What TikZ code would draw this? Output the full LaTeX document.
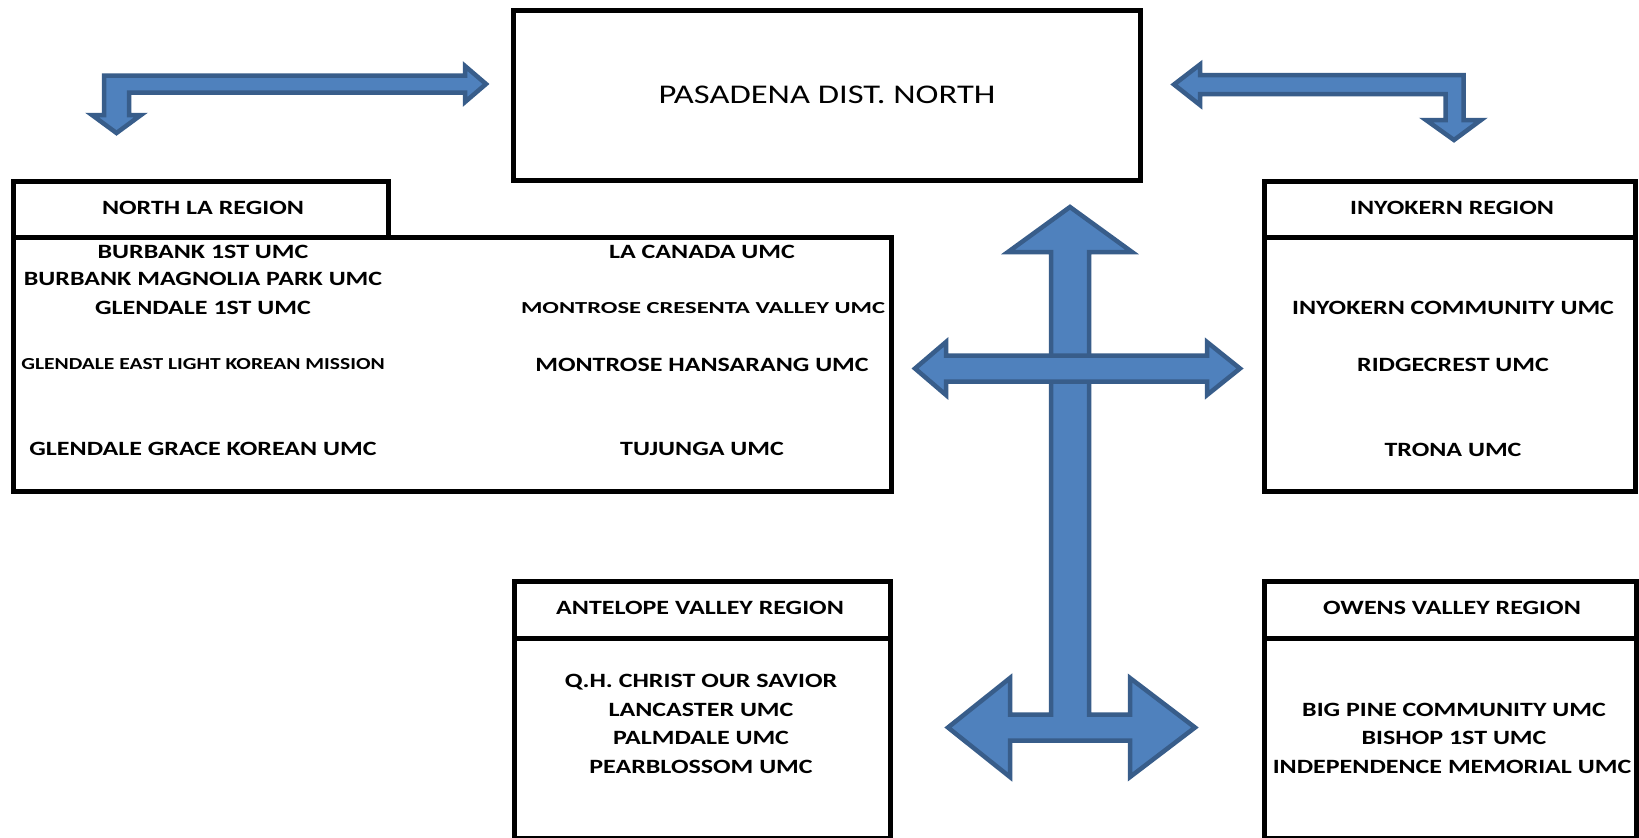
\documentclass[tikz,border=0pt]{standalone}
\usepackage{fontspec}
\setmainfont{Carlito}
\usepackage{graphicx}
\definecolor{arrowfill}{HTML}{4F81BD}
\definecolor{arrowline}{HTML}{385D8A}
\newcommand{\wx}[1]{\scalebox{1.28}[1]{#1}}
\begin{document}
\begin{tikzpicture}[x=1pt,y=-1pt,
  boxline/.style={draw=black,line width=5pt},
  arrowshape/.style={fill=arrowfill,draw=arrowline,line width=4.5pt,line join=miter},
  item/.style={font=\bfseries\fontsize{20.3}{24}\selectfont,inner sep=0pt},
  smallitem/.style={font=\bfseries\fontsize{16.8}{20}\selectfont,inner sep=0pt},
  titletext/.style={font=\fontsize{27}{32}\selectfont,inner sep=0pt}]
\useasboundingbox (0,0) rectangle (1639,838);
\fill[white] (0,0) rectangle (1639,838);

% boxes
\draw[boxline] (513,10) rectangle (1140,180);
\draw[boxline] (13,181) rectangle (388.5,237);
\draw[boxline] (13,237) rectangle (891,491);
\draw[boxline] (1264.5,181) rectangle (1635.5,237);
\draw[boxline] (1264.5,237) rectangle (1635.5,491);
\draw[boxline] (514,581) rectangle (890,638);
\draw[boxline] (514,638) rectangle (890,838);
\draw[boxline] (1264.5,581) rectangle (1636,638);
\draw[boxline] (1264.5,638) rectangle (1636,838);

% bent arrows
\draw[arrowshape] (116.5,133) -- (92,115) -- (104,115) -- (104,75.5) -- (465,75.5) -- (465,66)
  -- (486,84) -- (465,102) -- (465,92.5) -- (129,92.5) -- (129,115) -- (141,115) -- cycle;
\draw[arrowshape] (1174,84.5) -- (1200,64.5) -- (1200,75) -- (1463.5,75) -- (1463.5,120)
  -- (1481,120) -- (1454,140) -- (1426,120) -- (1445.5,120) -- (1445.5,94) -- (1200,94)
  -- (1200,105) -- cycle;

% cross arrow (left-right-up)
\draw[arrowshape] (1070,207) -- (1132,252) -- (1089,252) -- (1089,714.5) -- (1130,714.5)
  -- (1130,678) -- (1195,727.5) -- (1130,777) -- (1130,740.5) -- (1010,740.5) -- (1010,777)
  -- (948,727.5) -- (1010,678) -- (1010,714.5) -- (1051,714.5) -- (1051,252) -- (1008,252) -- cycle;
% middle double arrow
\draw[arrowshape] (915,368.5) -- (946,342) -- (946,355.5) -- (1207,355.5) -- (1207,342)
  -- (1240,368.5) -- (1207,395) -- (1207,381.5) -- (946,381.5) -- (946,395) -- cycle;

% texts
\node[titletext] (pas) at (827,95) {\wx{PASADENA DIST. NORTH}};

\node[item] (nla) at (203,208) {\wx{NORTH LA REGION}};
\node[item] (l1) at (203,252) {\wx{BURBANK 1ST UMC}};
\node[item] (l2) at (203,279) {\wx{BURBANK MAGNOLIA PARK UMC}};
\node[item] (l3) at (203,308) {\wx{GLENDALE 1ST UMC}};
\node[smallitem] (l4) at (203,364) {\wx{GLENDALE EAST LIGHT KOREAN MISSION}};
\node[item] (l5) at (203,449) {\wx{GLENDALE GRACE KOREAN UMC}};
\node[item] (r1) at (702,252) {\wx{LA CANADA UMC}};
\node[smallitem] (r2) at (703,308) {\scalebox{1.46}[1]{MONTROSE CRESENTA VALLEY UMC}};
\node[item] (r3) at (702,365) {\wx{MONTROSE HANSARANG UMC}};
\node[item] (r4) at (702,449) {\wx{TUJUNGA UMC}};

\node[item] (iyr) at (1452,208) {\wx{INYOKERN REGION}};
\node[item] (i1) at (1453,308) {\wx{INYOKERN COMMUNITY UMC}};
\node[item] (i2) at (1453,365) {\wx{RIDGECREST UMC}};
\node[item] (i3) at (1453,450) {\wx{TRONA UMC}};

\node[item] (avr) at (700,608) {\wx{ANTELOPE VALLEY REGION}};
\node[item] (a1) at (701,682) {\wx{Q.H. CHRIST OUR SAVIOR}};
\node[item] (a2) at (701,710) {\wx{LANCASTER UMC}};
\node[item] (a3) at (701,738) {\wx{PALMDALE UMC}};
\node[item] (a4) at (701,767) {\wx{PEARBLOSSOM UMC}};

\node[item] (ovr) at (1452,608) {\wx{OWENS VALLEY REGION}};
\node[item] (o1) at (1454,710) {\wx{BIG PINE COMMUNITY UMC}};
\node[item] (o2) at (1454,738) {\wx{BISHOP 1ST UMC}};
\node[item] (o3) at (1452,767) {\wx{INDEPENDENCE MEMORIAL UMC}};
\end{tikzpicture}
\end{document}
